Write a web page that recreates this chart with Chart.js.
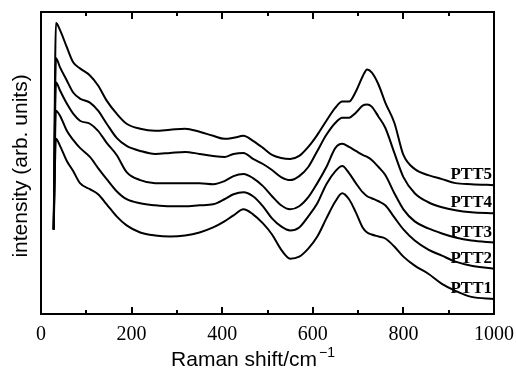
<!DOCTYPE html>
<html>
<head>
<meta charset="utf-8">
<script src="https://cdn.jsdelivr.net/npm/chart.js@4.4.0/dist/chart.umd.min.js"></script>
<style>
html, body { margin: 0; padding: 0; background: #fff; }
#wrap { width: 516px; height: 368px; }
</style>
</head>
<body>
<div id="wrap"><canvas id="ramanChart" width="516" height="368"></canvas></div>
<script>
// Raman shift (cm-1) sample points, shared by all spectra
const shifts = [28, 33, 42, 57, 71, 86, 108, 126, 145, 167, 189, 219, 252, 285, 318, 350, 380, 405, 425, 447,
    468, 490, 510, 530, 550, 570, 590, 610, 630, 650, 665, 680, 695, 710, 720, 730, 745, 760, 780, 800,
    825, 855, 885, 915, 950, 1000];

// intensities (arb. units, stacked as in the figure)
const ptt5 = [84, 289, 282, 265, 250, 244, 237, 227, 212, 199, 189, 184, 182, 183, 184, 181, 177, 174, 175, 177,
    172, 165, 158, 155, 154, 157, 166, 178, 192, 205, 211, 211, 221, 236, 243, 240, 228, 210, 190, 158,
    144, 138, 134, 130, 129, 128];
const ptt4 = [84, 254, 245, 232, 220, 214, 210, 202, 189, 175, 167, 162, 159, 160, 161, 159, 157, 156, 159, 160,
    154, 149, 143, 136, 133, 137, 146, 162, 178, 190, 195, 195, 200, 207, 208, 206, 196, 185, 160, 136,
    120, 111, 106, 103, 101, 100];
const ptt3 = [84, 230, 222, 209, 199, 192, 189, 182, 170, 158, 141, 133, 130, 130, 130, 130, 129, 132, 137, 139,
    135, 127, 117, 108, 104, 107, 116, 130, 146, 165, 169, 166, 162, 158, 156, 153, 146, 138, 120, 104,
    92, 85, 80, 76, 73, 71];
const ptt2 = [84, 202, 197, 182, 173, 165, 156, 145, 134, 122, 114, 110, 108, 107, 107, 108, 109, 114, 119, 121,
    117, 107, 95, 87, 83, 86, 97, 110, 129, 142, 147, 140, 130, 121, 117, 115, 112, 108, 96, 84,
    73, 64, 58, 52, 48, 45];
const ptt1 = [84, 174, 167, 152, 142, 130, 124, 119, 109, 97, 88, 81, 78, 77, 78, 81, 86, 92, 98, 104,
    99, 90, 79, 64, 55, 57, 65, 77, 95, 112, 120, 114, 101, 86, 81, 79, 77, 75, 67, 57,
    48, 40, 30, 23, 17, 15];

const seriesNames = ['PTT1', 'PTT2', 'PTT3', 'PTT4', 'PTT5'];
const seriesValues = [ptt1, ptt2, ptt3, ptt4, ptt5];
const xTicks = [0, 200, 400, 600, 800, 1000];

const decorations = {
    id: 'decorations',
    afterDraw(chart) {
        const { ctx, chartArea: a, scales: { x } } = chart;
        ctx.save();
        ctx.strokeStyle = '#000';
        ctx.fillStyle = '#000';

        // frame
        ctx.lineWidth = 2;
        ctx.strokeRect(a.left, a.top, a.right - a.left, a.bottom - a.top);

        // inward ticks top and bottom
        for (let v = 100; v < 1000; v += 100) {
            const px = Math.round(x.getPixelForValue(v));
            const len = xTicks.includes(v) ? 7 : 4;
            ctx.beginPath();
            ctx.moveTo(px, a.bottom);
            ctx.lineTo(px, a.bottom - len);
            ctx.moveTo(px, a.top);
            ctx.lineTo(px, a.top + len);
            ctx.stroke();
        }

        // series labels at the right end of each curve
        ctx.font = 'bold 17px "Liberation Serif", "DejaVu Serif", serif';
        ctx.textAlign = 'right';
        ctx.textBaseline = 'alphabetic';
        chart.data.datasets.forEach((ds, i) => {
            const pts = chart.getDatasetMeta(i).data;
            const last = pts[pts.length - 1];
            ctx.fillText(ds.label, a.right - 2, last.y - 6);
        });

        // x axis title with superscript
        ctx.textAlign = 'left';
        const main = 'Raman shift/cm';
        const sup = '\u22121';
        ctx.font = '21px "Liberation Sans", Arial, sans-serif';
        const wMain = ctx.measureText(main).width;
        ctx.font = '14px "Liberation Sans", Arial, sans-serif';
        const wSup = ctx.measureText(sup).width;
        const x0 = 252 - (wMain + wSup) / 2;
        ctx.font = '21px "Liberation Sans", Arial, sans-serif';
        ctx.fillText(main, x0, 366);
        ctx.font = '14px "Liberation Sans", Arial, sans-serif';
        ctx.fillText(sup, x0 + wMain + 2, 357);

        // y axis title
        ctx.save();
        ctx.translate(27, 166);
        ctx.rotate(-Math.PI / 2);
        ctx.textAlign = 'center';
        ctx.font = '21px "Liberation Sans", Arial, sans-serif';
        ctx.fillText('intensity (arb. units)', 0, 0);
        ctx.restore();

        ctx.restore();
    }
};

const ramanCtx = document.getElementById('ramanChart').getContext('2d');
new Chart(ramanCtx, {
    type: 'line',
    data: {
        labels: shifts,
        datasets: seriesNames.map((name, i) => ({
            label: name,
            data: shifts.map((s, j) => ({ x: s, y: seriesValues[i][j] })),
            borderColor: '#000',
            borderWidth: 2,
            pointRadius: 0,
            fill: false,
            cubicInterpolationMode: 'monotone'
        }))
    },
    options: {
        responsive: false,
        animation: false,
        devicePixelRatio: 1,
        layout: {
            padding: { left: 41, right: 22, top: 12, bottom: 12 }
        },
        plugins: {
            legend: { display: false },
            tooltip: { enabled: false }
        },
        scales: {
            x: {
                type: 'linear',
                min: 0,
                max: 1000,
                afterBuildTicks: (scale) => {
                    scale.ticks = xTicks.map(v => ({ value: v }));
                },
                afterFit: (scale) => {
                    scale.paddingLeft = 0;
                    scale.paddingRight = 0;
                },
                grid: { display: false, drawTicks: false },
                border: { display: false },
                ticks: {
                    padding: 9,
                    color: '#000',
                    maxRotation: 0,
                    callback: (v) => String(v),
                    font: { family: '"Liberation Serif", "DejaVu Serif", serif', size: 20 }
                }
            },
            y: {
                display: false,
                min: 0,
                max: 300
            }
        }
    },
    plugins: [decorations]
});
</script>
</body>
</html>
